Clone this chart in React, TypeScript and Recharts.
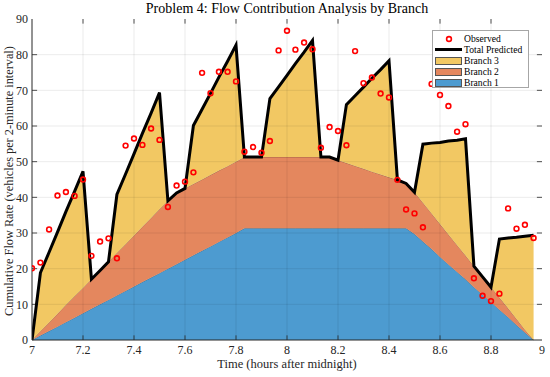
import React from "react";
import {
  Area,
  ComposedChart,
  Line,
  ReferenceLine,
  Scatter,
  XAxis,
  YAxis,
} from "recharts";

// 2분 간격 시각 (7:00 ~ 8:58)
const TIMES = [
  7.0, 7.033, 7.067, 7.1, 7.133, 7.167, 7.2, 7.233, 7.267, 7.3,
  7.333, 7.367, 7.4, 7.433, 7.467, 7.5, 7.533, 7.567, 7.6, 7.633,
  7.667, 7.7, 7.733, 7.767, 7.8, 7.833, 7.867, 7.9, 7.933, 7.967,
  8.0, 8.033, 8.067, 8.1, 8.133, 8.167, 8.2, 8.233, 8.267, 8.3,
  8.333, 8.367, 8.4, 8.433, 8.467, 8.5, 8.533, 8.567, 8.6, 8.633,
  8.667, 8.7, 8.733, 8.767, 8.8, 8.833, 8.867, 8.9, 8.933, 8.967,
];

const BRANCH_1 = [
  0, 1.25, 2.5, 3.75, 5.0, 6.25, 7.5, 8.75, 10.0, 11.25,
  12.5, 13.75, 15.0, 16.25, 17.5, 18.75, 20.0, 21.25, 22.5, 23.75,
  25.0, 26.25, 27.5, 28.75, 30.0, 31.3, 31.3, 31.3, 31.3, 31.3,
  31.3, 31.3, 31.3, 31.3, 31.3, 31.3, 31.3, 31.3, 31.3, 31.3,
  31.3, 31.3, 31.3, 31.3, 31.3, 29.7, 27.6, 25.5, 23.3, 21.2,
  19.1, 17.0, 14.8, 12.7, 10.6, 8.5, 6.4, 4.2, 2.1, 0,
];

const BRANCH_2 = [
  0, 1.2, 2.4, 3.6, 4.8, 6.0, 7.1, 8.3, 9.5, 10.7,
  11.9, 13.1, 14.3, 15.5, 16.7, 17.9, 19.0, 20.0, 20.0, 20.0,
  20.0, 20.0, 20.0, 20.0, 20.0, 20.0, 20.0, 20.0, 20.0, 20.0,
  20.0, 20.0, 20.0, 20.0, 20.0, 20.0, 19.1, 18.3, 17.5, 16.7,
  15.9, 15.1, 14.3, 13.6, 12.6, 11.7, 10.9, 10.0, 9.2, 8.4,
  7.5, 6.7, 5.9, 5.0, 4.2, 3.4, 2.5, 1.7, 0.8, 0,
];

const BRANCH_3 = [
  0, 16.4, 19.7, 22.9, 26.2, 29.4, 32.7, 0, 0, 0,
  16.4, 19.7, 22.9, 26.2, 29.4, 32.7, 0, 0, 0, 16.4,
  19.7, 22.9, 26.2, 29.4, 32.7, 0, 0, 0, 16.4, 19.7,
  22.9, 26.2, 29.4, 32.7, 0, 0, 0, 16.4, 19.7, 22.9,
  26.2, 29.4, 32.7, 0, 0, 0, 16.4, 19.7, 22.9, 26.2,
  29.4, 32.7, 0, 0, 0, 16.4, 19.7, 22.9, 26.2, 29.4,
];

const TOTAL_PREDICTED = [
  0, 18.85, 24.6, 30.25, 36.0, 41.65, 47.3, 17.05, 19.5, 21.95,
  40.8, 46.55, 52.2, 57.95, 63.6, 69.35, 39.0, 41.25, 42.5, 60.15,
  64.7, 69.15, 73.7, 78.15, 82.7, 51.3, 51.3, 51.3, 67.7, 71.0,
  74.2, 77.5, 80.7, 84.0, 51.3, 51.3, 50.4, 66.0, 68.5, 70.9,
  73.4, 75.8, 78.3, 44.9, 43.9, 41.4, 54.9, 55.2, 55.4, 55.8,
  56.0, 56.4, 20.7, 17.7, 14.8, 28.3, 28.6, 28.8, 29.1, 29.4,
];

const OBSERVED = [
  20.1, 21.7, 31.0, 40.5, 41.5, 40.4, 45.0, 23.6, 27.6, 28.5,
  22.9, 54.5, 56.5, 54.7, 59.3, 56.1, 37.3, 43.3, 44.4, 47.0,
  74.9, 69.2, 75.2, 75.2, 72.5, 52.8, 54.1, 52.5, 55.8, 81.2,
  86.7, 81.4, 83.4, 81.5, 53.9, 59.7, 58.6, 54.6, 81.0, 72.0,
  73.6, 69.1, 68.0, 44.9, 36.6, 35.5, 31.6, 71.8, 68.7, 65.6,
  58.4, 60.5, 17.3, 12.4, 10.9, 13.0, 36.9, 31.2, 32.3, 28.6,
];

const X_TICKS = [7, 7.2, 7.4, 7.6, 7.8, 8, 8.2, 8.4, 8.6, 8.8, 9];
const Y_TICKS = [0, 10, 20, 30, 40, 50, 60, 70, 80, 90];

// MATLAB 기본색에 FaceAlpha 0.7을 흰 배경 위에 얹은 색
const C_B1 = "#4d9bd0";
const C_B2 = "#e4875e";
const C_B3 = "#f2c863";

const FONT = '"Liberation Serif", "Times New Roman", serif';
const TICK_COLOR = "#262626";

if (typeof document !== "undefined") document.body.style.margin = "0";

const data = TIMES.map((t, i) => ({
  t,
  b1: BRANCH_1[i],
  b2: BRANCH_2[i],
  b3: BRANCH_3[i],
  total: TOTAL_PREDICTED[i],
  obs: OBSERVED[i],
}));

const ObsDot = (p: any) => (
  <circle cx={p.cx} cy={p.cy} r={2.4} fill="none" stroke="#ff0000" strokeWidth={1.6} />
);

function LegendBox() {
  const row = { display: "flex", alignItems: "center", height: 11, whiteSpace: "nowrap" } as const;
  const icon = { width: 27, marginRight: 2, display: "flex", justifyContent: "center" } as const;
  const swatch = (c: string) => (
    <div style={{ width: 25, height: 6, background: c, border: "1px solid #555" }} />
  );
  return (
    <div
      style={{
        position: "absolute",
        left: 432,
        top: 30,
        width: 97,
        height: 58,
        background: "#fff",
        border: "1px solid #a6a6a6",
        padding: "2px 0 0 2px",
        boxSizing: "border-box",
        fontFamily: FONT,
        fontSize: 9.6,
        color: "#000",
        lineHeight: "11px",
      }}
    >
      <div style={row}>
        <div style={icon}>
          <svg width={8} height={8}>
            <circle cx={4} cy={4} r={2.4} fill="none" stroke="#ff0000" strokeWidth={1.6} />
          </svg>
        </div>
        Observed
      </div>
      <div style={row}>
        <div style={icon}>
          <div style={{ width: 27, height: 3, background: "#000" }} />
        </div>
        Total Predicted
      </div>
      <div style={row}>
        <div style={icon}>{swatch(C_B3)}</div>
        Branch 3
      </div>
      <div style={row}>
        <div style={icon}>{swatch(C_B2)}</div>
        Branch 2
      </div>
      <div style={row}>
        <div style={icon}>{swatch(C_B1)}</div>
        Branch 1
      </div>
    </div>
  );
}

export default function App() {
  const tickStyle = { fontFamily: FONT, fontSize: 12, fill: TICK_COLOR };
  return (
    <div style={{ position: "relative", width: 550, height: 377, background: "#fff" }}>
      <div
        style={{
          position: "absolute",
          left: 32,
          width: 510,
          top: 1,
          textAlign: "center",
          fontFamily: FONT,
          fontSize: 14,
          color: "#000",
        }}
      >
        Problem 4: Flow Contribution Analysis by Branch
      </div>
      <div
        style={{
          position: "absolute",
          left: 32,
          width: 510,
          top: 357,
          textAlign: "center",
          fontFamily: FONT,
          fontSize: 12.5,
          color: TICK_COLOR,
        }}
      >
        Time (hours after midnight)
      </div>
      <div
        style={{
          position: "absolute",
          left: 9,
          top: 181,
          transform: "translate(-50%, -50%) rotate(-90deg)",
          whiteSpace: "nowrap",
          fontFamily: FONT,
          fontSize: 12.3,
          color: TICK_COLOR,
        }}
      >
        Cumulative Flow Rate (vehicles per 2-minute interval)
      </div>
      <div style={{ position: "absolute", left: 0, top: 0 }}>
        <ComposedChart
          width={550}
          height={377}
          data={data}
          margin={{ top: 19, right: 8, bottom: 17, left: 8 }}
        >
          <XAxis
            dataKey="t"
            type="number"
            domain={[7, 9]}
            ticks={X_TICKS}
            allowDataOverflow
            height={20}
            tickLine={false}
            tickSize={5}
            tickMargin={0}
            tick={tickStyle}
            axisLine={{ stroke: "#262626" }}
          />
          <XAxis
            xAxisId="top"
            orientation="top"
            type="number"
            domain={[7, 9]}
            height={0}
            tick={false}
            tickLine={false}
            axisLine={{ stroke: "#262626" }}
          />
          <YAxis
            type="number"
            domain={[0, 90]}
            ticks={Y_TICKS}
            width={24}
            tickLine={false}
            tickSize={4}
            tickMargin={0}
            tick={tickStyle}
            axisLine={{ stroke: "#262626" }}
          />
          <YAxis
            yAxisId="right"
            orientation="right"
            domain={[0, 90]}
            width={0}
            tick={false}
            tickLine={false}
            axisLine={{ stroke: "#262626" }}
          />
          <Area
            type="linear"
            dataKey="b1"
            stackId="s"
            fill={C_B1}
            fillOpacity={1}
            stroke="#000"
            strokeOpacity={0.45}
            strokeWidth={0.6}
            isAnimationActive={false}
          />
          <Area
            type="linear"
            dataKey="b2"
            stackId="s"
            fill={C_B2}
            fillOpacity={1}
            stroke="#000"
            strokeOpacity={0.45}
            strokeWidth={0.6}
            isAnimationActive={false}
          />
          <Area
            type="linear"
            dataKey="b3"
            stackId="s"
            fill={C_B3}
            fillOpacity={1}
            stroke="#000"
            strokeOpacity={0.45}
            strokeWidth={0.6}
            isAnimationActive={false}
          />
          {X_TICKS.slice(1, -1).map((x) => (
            <ReferenceLine key={"gx" + x} x={x} stroke="#000" strokeOpacity={0.1} strokeWidth={0.8} />
          ))}
          {Y_TICKS.slice(1, -1).map((y) => (
            <ReferenceLine key={"gy" + y} y={y} stroke="#000" strokeOpacity={0.1} strokeWidth={0.8} />
          ))}
          {/* 안쪽으로 향하는 눈금 (MATLAB 박스 스타일) */}
          {X_TICKS.slice(1, -1).map((x) => (
            <ReferenceLine key={"tb" + x} segment={[{ x, y: 0 }, { x, y: 1.3 }]} stroke="#262626" strokeWidth={0.8} />
          ))}
          {X_TICKS.slice(1, -1).map((x) => (
            <ReferenceLine key={"tt" + x} segment={[{ x, y: 90 }, { x, y: 88.7 }]} stroke="#262626" strokeWidth={0.8} />
          ))}
          {Y_TICKS.slice(1, -1).map((y) => (
            <ReferenceLine key={"tl" + y} segment={[{ x: 7, y }, { x: 7.02, y }]} stroke="#262626" strokeWidth={0.8} />
          ))}
          {Y_TICKS.slice(1, -1).map((y) => (
            <ReferenceLine key={"tr" + y} segment={[{ x: 9, y }, { x: 8.98, y }]} stroke="#262626" strokeWidth={0.8} />
          ))}
          <Line
            type="linear"
            dataKey="total"
            stroke="#000"
            strokeWidth={3}
            dot={false}
            activeDot={false}
            isAnimationActive={false}
          />
          <Scatter dataKey="obs" shape={ObsDot} isAnimationActive={false} />
        </ComposedChart>
      </div>
      <LegendBox />
    </div>
  );
}
